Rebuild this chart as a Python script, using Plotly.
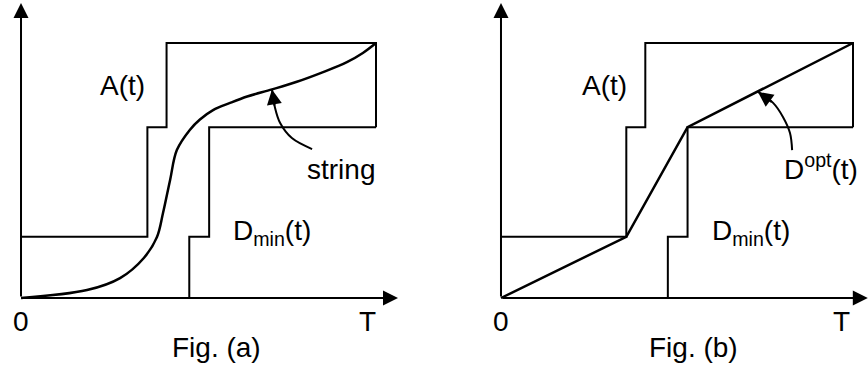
import plotly.graph_objects as go

# step times (fraction of T) and levels (fraction of top level)
A_t = [0, 0.356, 0.356, 0.41, 0.41, 1.0, 1.0]
A_y = [0.24, 0.24, 0.67, 0.67, 1.0, 1.0, 0.67]
Dmin_t = [1.0, 0.53, 0.53, 0.474, 0.474]
Dmin_y = [0.67, 0.67, 0.24, 0.24, 0.0]

# the "string" curve in fig (a)
string_t = [0, 0.186, 0.279, 0.346, 0.383, 0.400, 0.420, 0.439, 0.476, 0.504,
            0.541, 0.589, 0.637, 0.707, 0.777, 0.851, 0.918, 0.963, 1.0]
string_y = [0, 0.031, 0.078, 0.157, 0.239, 0.333, 0.463, 0.580, 0.660, 0.700,
            0.737, 0.765, 0.790, 0.818, 0.848, 0.886, 0.925, 0.961, 1.0]

# piecewise linear optimal departure curve in fig (b)
Dopt_t = [0, 0.356, 0.53, 1.0]
Dopt_y = [0, 0.24, 0.67, 1.0]

# curved pointers to the labels
ptr_a_t = [0.820, 0.763, 0.730, 0.715, 0.707]
ptr_a_y = [0.584, 0.627, 0.686, 0.749, 0.818]
ptr_b_t = [0.827, 0.821, 0.801, 0.773, 0.730]
ptr_b_y = [0.580, 0.647, 0.710, 0.765, 0.808]

FONT = "Liberation Sans, Arial, sans-serif"
BLACK = "black"

fig = go.Figure()

def step_lines(xa, ya):
    fig.add_trace(go.Scatter(x=A_t, y=A_y, mode="lines", xaxis=xa, yaxis=ya,
                             line=dict(color=BLACK, width=2)))
    fig.add_trace(go.Scatter(x=Dmin_t, y=Dmin_y, mode="lines", xaxis=xa, yaxis=ya,
                             line=dict(color=BLACK, width=2)))

step_lines("x", "y")
step_lines("x2", "y2")

fig.add_trace(go.Scatter(x=string_t, y=string_y, mode="lines", xaxis="x", yaxis="y",
                         line=dict(color=BLACK, width=2.5, shape="spline", smoothing=1.0)))
fig.add_trace(go.Scatter(x=Dopt_t, y=Dopt_y, mode="lines", xaxis="x2", yaxis="y2",
                         line=dict(color=BLACK, width=2.5)))
fig.add_trace(go.Scatter(x=ptr_a_t, y=ptr_a_y, mode="lines", xaxis="x", yaxis="y",
                         line=dict(color=BLACK, width=2, shape="spline")))
fig.add_trace(go.Scatter(x=ptr_b_t, y=ptr_b_y, mode="lines", xaxis="x2", yaxis="y2",
                         line=dict(color=BLACK, width=2, shape="spline")))

annots = []

def arrow(xr, yr, x, y, ax, ay):
    annots.append(dict(x=x, y=y, ax=ax, ay=ay, xref=xr, yref=yr, axref=xr, ayref=yr,
                       text="", showarrow=True, arrowhead=2, arrowsize=1.5,
                       arrowwidth=2, arrowcolor=BLACK, standoff=0))

def label(xr, yr, x, y, txt, size=28, xanchor="center"):
    annots.append(dict(x=x, y=y, xref=xr, yref=yr, text=txt, showarrow=False,
                       xanchor=xanchor, yanchor="middle",
                       font=dict(family=FONT, size=size, color=BLACK)))

# axes with arrows
arrow("x", "y", 0, 1.157, 0, 0)
arrow("x", "y", 1.062, 0, 0, 0)
arrow("x2", "y2", 0, 1.157, 0, 0)
arrow("x2", "y2", 1.042, 0, 0, 0)

# pointer heads
arrow("x", "y", ptr_a_t[-1], ptr_a_y[-1], ptr_a_t[-2], ptr_a_y[-2])
arrow("x2", "y2", ptr_b_t[-1], ptr_b_y[-1], ptr_b_t[-2], ptr_b_y[-2])

# labels fig (a)
label("x", "y", 0.287, 0.835, "A(t)")
label("x", "y", 0.901, 0.502, "string")
label("x", "y", 0.592, 0.257, "D<sub>min</sub>(t)", xanchor="left")
label("x", "y", 0, -0.094, "0")
label("x", "y", 0.975, -0.094, "T")
label("x", "y", 0.552, -0.196, "Fig. (a)")

# labels fig (b)
label("x2", "y2", 0.293, 0.835, "A(t)")
label("x2", "y2", 0.797, 0.514, "D<sup>opt</sup>(t)", xanchor="left")
label("x2", "y2", 0.594, 0.257, "D<sub>min</sub>(t)", xanchor="left")
label("x2", "y2", 0, -0.094, "0")
label("x2", "y2", 0.966, -0.094, "T")
label("x2", "y2", 0.548, -0.196, "Fig. (b)")

hidden = dict(visible=False, showgrid=False, zeroline=False, fixedrange=True)
fig.update_layout(
    width=868, height=372, autosize=False,
    margin=dict(l=0, r=0, t=0, b=0),
    paper_bgcolor="white", plot_bgcolor="white",
    showlegend=False,
    xaxis=dict(domain=[0, 0.5], range=[-0.0592, 1.1634], **hidden),
    yaxis=dict(domain=[0, 1], range=[-0.2902, 1.1686], **hidden),
    xaxis2=dict(domain=[0.5, 1], range=[-0.1903, 1.0426], **hidden),
    yaxis2=dict(domain=[0, 1], range=[-0.2902, 1.1686], anchor="x2", **hidden),
    annotations=annots,
)

fig.write_html("out.html", config={"displayModeBar": False},
               post_script="document.body.style.margin='0';")
